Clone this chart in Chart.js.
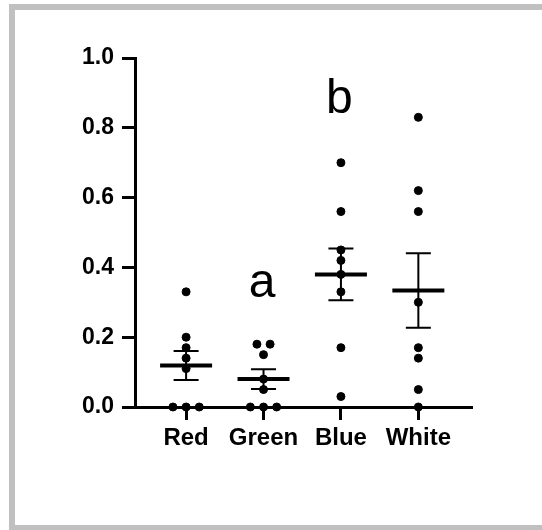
<!DOCTYPE html>
<html>
<head>
<meta charset="utf-8">
<script src="https://cdn.jsdelivr.net/npm/chart.js@4.4.1/dist/chart.umd.min.js"></script>
<style>
  html, body { margin: 0; padding: 0; background: #fff; }
  #wrap { position: relative; width: 542px; height: 530px; overflow: hidden; }
  #frame {
    position: absolute; left: 9px; top: 4px; width: 620px; height: 515px;
    border-left: 6px solid #c0c0c0; border-top: 6px solid #c0c0c0; border-bottom: 5px solid #c0c0c0;
  }
  #chart { position: absolute; left: 0; top: 0; }
</style>
</head>
<body>
<div id="wrap">
  <div id="frame"></div>
  <canvas id="chart" width="542" height="530"></canvas>
</div>
<script>
// ====== data ======
const categories = ['Red', 'Green', 'Blue', 'White'];
const redValues = [0.33, 0.20, 0.17, 0.14, 0.11, 0, 0, 0];
const greenValues = [0.18, 0.18, 0.15, 0.08, 0.05, 0, 0, 0];
const blueValues = [0.70, 0.56, 0.45, 0.42, 0.38, 0.33, 0.17, 0.03];
const whiteValues = [0.83, 0.62, 0.56, 0.30, 0.17, 0.14, 0.05, 0];
const groupLetters = ['', 'a', 'b', ''];
const letterLevels = [null, 0.315, 0.842, null];
const yTicks = [0, 0.2, 0.4, 0.6, 0.8, 1.0];

const groups = [redValues, greenValues, blueValues, whiteValues];
const FONT = "'Liberation Sans', Arial, sans-serif";

// spread identical values sideways (beeswarm style)
function swarm(values, idx) {
  const step = 0.17;
  const seen = {};
  values.forEach(v => { seen[v] = (seen[v] || 0) + 1; });
  const used = {};
  return values.map(v => {
    const n = seen[v];
    const k = used[v] || 0;
    used[v] = k + 1;
    return { x: idx + (k - (n - 1) / 2) * step, y: v };
  });
}

function stats(values) {
  const n = values.length;
  const mean = values.reduce((a, b) => a + b, 0) / n;
  const sd = Math.sqrt(values.reduce((a, b) => a + (b - mean) ** 2, 0) / (n - 1));
  return { mean, sem: sd / Math.sqrt(n) };
}

const points = groups.flatMap((g, i) => swarm(g, i));

// mean + SEM bars and group letters
const summaryPlugin = {
  id: 'summary',
  afterDatasetsDraw(chart) {
    const { ctx, scales: { x, y } } = chart;
    ctx.save();
    ctx.strokeStyle = '#000';
    groups.forEach((g, i) => {
      const s = stats(g);
      const cx = x.getPixelForValue(i);
      const yTop = y.getPixelForValue(s.mean + s.sem);
      const yBot = y.getPixelForValue(s.mean - s.sem);
      const yMean = y.getPixelForValue(s.mean);
      ctx.lineWidth = 2;
      ctx.beginPath();
      ctx.moveTo(cx, yTop); ctx.lineTo(cx, yBot);
      ctx.moveTo(cx - 12.5, yTop); ctx.lineTo(cx + 12.5, yTop);
      ctx.moveTo(cx - 12.5, yBot); ctx.lineTo(cx + 12.5, yBot);
      ctx.stroke();
      ctx.lineWidth = 4;
      ctx.beginPath();
      ctx.moveTo(cx - 26, yMean); ctx.lineTo(cx + 26, yMean);
      ctx.stroke();

      if (groupLetters[i]) {
        ctx.fillStyle = '#000';
        ctx.font = '48px ' + FONT;
        ctx.textAlign = 'center';
        ctx.textBaseline = 'alphabetic';
        ctx.fillText(groupLetters[i], cx - 1.5, y.getPixelForValue(letterLevels[i]));
      }
    });
    ctx.restore();
  }
};

new Chart(document.getElementById('chart'), {
  type: 'scatter',
  data: {
    datasets: [{
      data: points,
      backgroundColor: '#000',
      borderColor: '#000',
      pointRadius: 4,
      pointHoverRadius: 4,
      clip: false
    }]
  },
  options: {
    responsive: false,
    animation: false,
    events: [],
    layout: { padding: { left: 0, top: 58, right: 71, bottom: 73 } },
    plugins: { legend: { display: false }, tooltip: { enabled: false } },
    scales: {
      x: {
        type: 'linear',
        min: -0.66,
        max: 3.68,
        afterBuildTicks: scale => { scale.ticks = categories.map((c, i) => ({ value: i })); },
        afterFit: scale => { scale.height = 50; },
        grid: { drawOnChartArea: false, drawTicks: true, tickLength: 13, lineWidth: 3, color: '#000' },
        border: { display: true, width: 3, color: '#000' },
        ticks: {
          autoSkip: false,
          maxRotation: 0,
          padding: 4,
          color: '#000',
          font: { family: FONT, size: 24, weight: 'bold' },
          callback: v => categories[v]
        }
      },
      y: {
        min: 0,
        max: 1,
        afterBuildTicks: scale => { scale.ticks = yTicks.map(v => ({ value: v })); },
        afterFit: scale => { scale.width = 135; },
        grid: { drawOnChartArea: false, drawTicks: true, tickLength: 13, lineWidth: 3, color: '#000' },
        border: { display: true, width: 3, color: '#000' },
        ticks: {
          padding: 8,
          color: '#000',
          font: { family: FONT, size: 23, weight: 'bold' },
          callback: v => v.toFixed(1)
        }
      }
    }
  },
  plugins: [summaryPlugin]
});
</script>
</body>
</html>
